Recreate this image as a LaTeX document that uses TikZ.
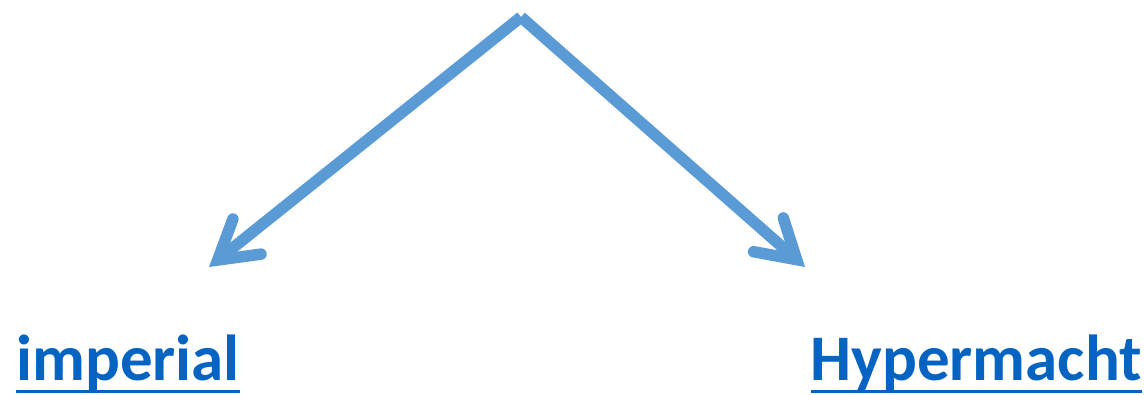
\documentclass[tikz,border=0pt]{standalone}
\usepackage{fontspec}
\setmainfont{Carlito}
\usetikzlibrary{arrows.meta, positioning, calc}
\definecolor{arrowblue}{HTML}{5B9BD5}
\definecolor{linkblue}{HTML}{0563C1}

\begin{document}
\begin{tikzpicture}[x=0.02cm, y=-0.02cm,
  >={Straight Barb[length=0.75cm, width=0.9cm, line cap=round, line join=miter]},
  branch/.style={draw=arrowblue, line width=0.23cm, line join=miter, ->},
  term/.style={inner sep=0pt, anchor=base west, text=linkblue,
    font=\fontsize{37}{40}\selectfont\bfseries},
  uline/.style={draw=linkblue, line width=0.06cm}]
  \useasboundingbox (0,0) rectangle (1144,395);

  \coordinate (top) at (521,17);
  \coordinate (lefttip) at (209,267);
  \coordinate (righttip) at (805,267);

  \node[term] (imperial) at (16,380) {imperial};
  \node[term] (hyper) at (810,380) {Hypermacht};

  \draw[branch] (top) -- (lefttip);
  \draw[branch] (top) -- (righttip);

  % underlines
  \draw[uline] ($(imperial.base west)+(0,11)$) -- ($(imperial.base east)+(0,11)$);
  \draw[uline] ($(hyper.base west)+(1,11)$) -- ($(hyper.base east)+(0,11)$);
\end{tikzpicture}
\end{document}
